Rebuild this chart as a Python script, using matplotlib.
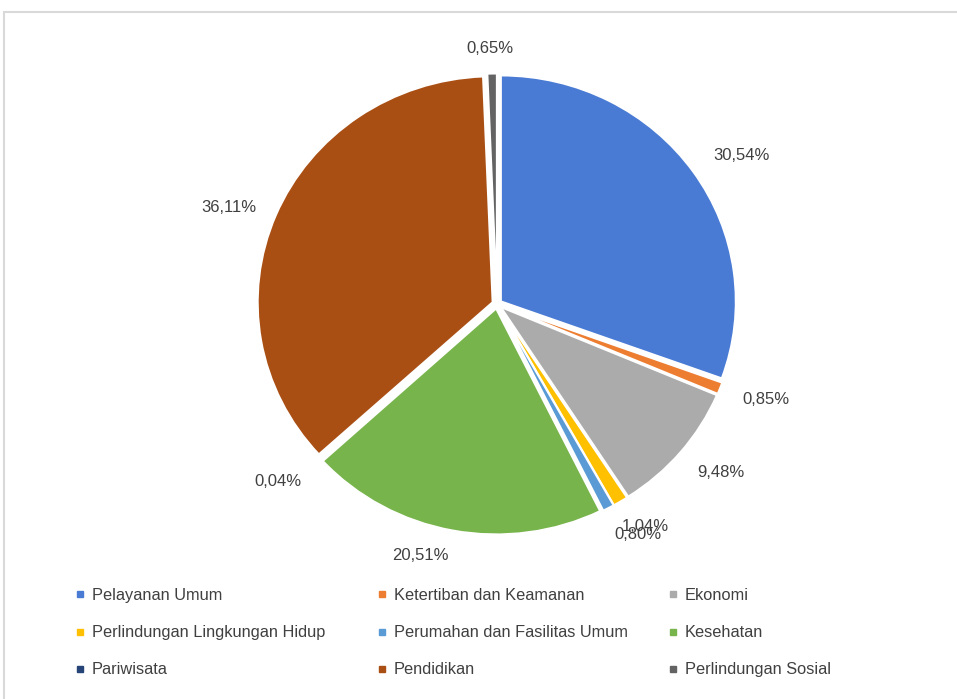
import numpy as np
import matplotlib
matplotlib.use("Agg")
import matplotlib.pyplot as plt
from matplotlib.lines import Line2D
from matplotlib.patches import Rectangle

plt.rcParams['font.family'] = ['Liberation Sans', 'DejaVu Sans']

categories = ['Pelayanan Umum', 'Ketertiban dan Keamanan', 'Ekonomi',
              'Perlindungan Lingkungan Hidup', 'Perumahan dan Fasilitas Umum', 'Kesehatan',
              'Pariwisata', 'Pendidikan', 'Perlindungan Sosial']
values = [30.54, 0.85, 9.48, 1.04, 0.80, 20.51, 0.04, 36.11, 0.65]
labels = ['30,54%', '0,85%', '9,48%', '1,04%', '0,80%', '20,51%', '0,04%', '36,11%', '0,65%']
colors = ['#4A7BD4', '#ED7D31', '#ABABAB', '#FFC000', '#5B9BD5', '#78B44C',
          '#264478', '#A94F14', '#636363']
# label placement: distance from centre (radius units) and angle nudge (degrees)
label_dist = [1.23, 1.22, 1.21, 1.17, 1.185, 1.16, 1.22, 1.22, 1.13]
label_shift = [-2.7, 1.1, 2.1, 1.5, 2.7, -5.7, -2.2, 2.2, 0.3]

fig = plt.figure(figsize=(9.57, 6.99), dpi=100)

# light chart-area border
fig.patches.append(Rectangle((4 / 957, -0.1), 1.1, 1 - 12 / 699 + 0.1, transform=fig.transFigure,
                             fill=False, edgecolor='#D9D9D9', linewidth=1.5))

# the source chart is slightly wider than tall
rx, ry = 235, 226
half = 1.4
cx, cy = 497, 304
w_px, h_px = 2 * half * rx, 2 * half * ry
ax = fig.add_axes([(cx - w_px / 2) / 957, (699 - cy - h_px / 2) / 699, w_px / 957, h_px / 699])

wedges, _ = ax.pie(values, colors=colors, startangle=90, counterclock=False,
                   explode=[0.02] * len(values), radius=1,
                   wedgeprops=dict(linewidth=1.5, edgecolor='white'))
for w, lab, d, s in zip(wedges, labels, label_dist, label_shift):
    ang = np.deg2rad((w.theta1 + w.theta2) / 2 + s)
    ax.text(d * np.cos(ang), d * np.sin(ang), lab, ha='center', va='center',
            fontsize=12, color='#404040')
ax.set_aspect('auto')
ax.set_xlim(-half, half)
ax.set_ylim(-half, half)
ax.axis('off')

# legend: three columns, filled row by row
col_x = [67, 369, 660]
for j, x0 in enumerate(col_x):
    idx = [j, j + 3, j + 6]
    handles = [Line2D([0], [0], marker='s', linestyle='', markersize=4, color=colors[i]) for i in idx]
    fig.legend(handles, [categories[i] for i in idx], loc='upper left',
               bbox_to_anchor=(x0 / 957, 1 - 580 / 699), borderpad=0,
               frameon=False, fontsize=11.8, handlelength=0.6, handletextpad=0.4,
               labelspacing=1.35, labelcolor='#404040')

fig.savefig('out.png', dpi=100)
